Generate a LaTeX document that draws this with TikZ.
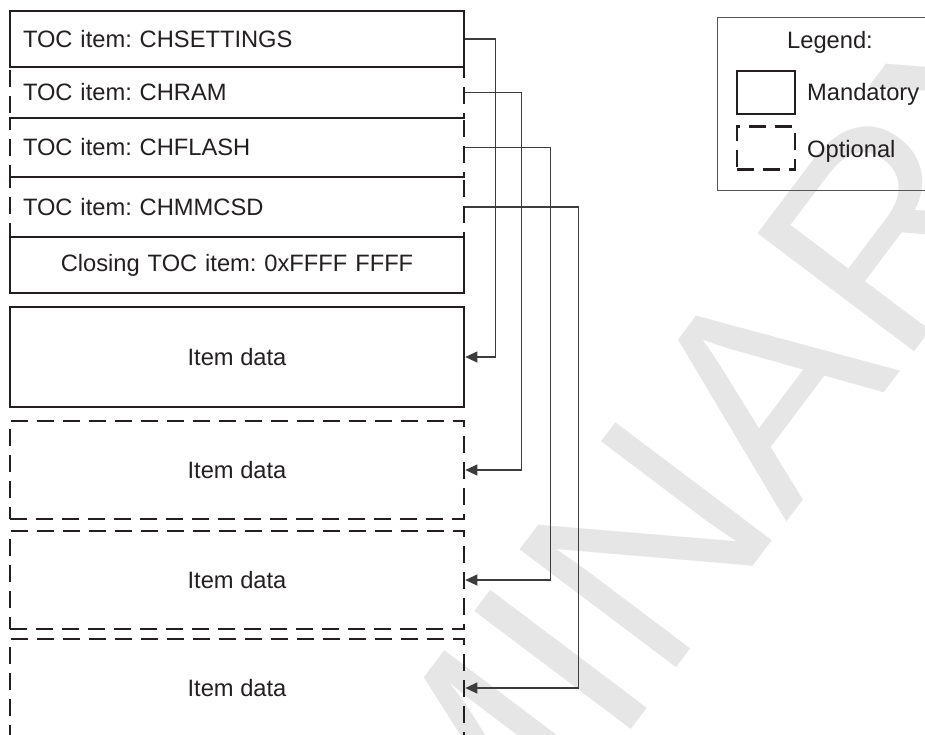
\documentclass[tikz,border=0pt]{standalone}
\usepackage{fontspec}
\setmainfont{Liberation Sans}
\usepackage{xcolor}
\usetikzlibrary{arrows.meta}
\definecolor{TInk}{HTML}{231F20}
\definecolor{TWire}{HTML}{3C3C3C}
\definecolor{TFrame}{HTML}{555555}
\definecolor{TMark}{HTML}{E6E6E6}
\frenchspacing

\begin{document}
\begin{tikzpicture}[
  x=1pt,y=-1pt,
  every node/.style={font=\fontsize{23.7}{28}\selectfont,text=TInk},
  toc/.style={draw=TInk,line width=2.6pt,inner xsep=13pt,inner ysep=0pt,
    text width=428pt,align=left,minimum height=#1},
  tocend/.style={toc=#1,align=center},
  itemdata/.style={draw=TInk,line width=2.6pt,inner sep=0pt,
    minimum width=454pt,minimum height=#1,align=center},
  opt/.style={dash pattern=on 17pt off 9pt},
  sample/.style={draw=TInk,line width=2.4pt,inner sep=0pt,
    minimum width=58pt,minimum height=43pt},
  legendframe/.style={draw=TFrame,line width=1pt,inner sep=0pt,
    minimum width=228pt,minimum height=173pt},
  wmark/.style={font=\fontsize{285}{285}\selectfont,text=TMark,
    rotate=53,inner sep=0pt},
  a/.style={-{Triangle[length=12pt,width=11pt]},line width=1.1pt,color=TWire}
]
  \useasboundingbox (0,0) rectangle (925,734);
  \clip (0,0) rectangle (925,734);
  \node[wmark] (prelim) at (478,769) {PRELIMINARY};

  % table of contents
  \node[toc=51pt,opt] (ram) at (237,92.5) {TOC item: CHRAM};
  \node[toc=59pt,opt] (flash) at (237,147.5) {TOC item: CHFLASH};
  \node[toc=60pt,opt] (mmcsd) at (237,207) {TOC item: CHMMCSD};
  \node[toc=56pt] (settings) at (237,39) {TOC item: CHSETTINGS};
  \node[tocend=56pt] (closing) at (237,265) {Closing TOC item: 0xFFFF FFFF};

  % item data blocks
  \node[itemdata=98pt,opt] (dataB) at (237,470) {Item data};
  \node[itemdata=98pt,opt] (dataC) at (237,580) {Item data};
  \node[itemdata=98pt,opt] (dataD) at (237,688) {Item data};
  \node[itemdata=100pt] (dataA) at (237,357) {Item data};

  \foreach \src/\dst/\run in {settings/dataA/30,ram/dataB/56,flash/dataC/85,mmcsd/dataD/113}
    {\draw[a] (\src.east) -- ++(\run,0) |- (\dst.east);}

  % legend
  \node[legendframe] (legend) at (831,103.5) {};
  \node[anchor=base] (legendtitle) at (830,48) {Legend:};
  \node[sample] (mandbox) at (766,92.5) {};
  \node[sample,opt] (optbox) at (766,148) {};
  \node[anchor=base west,inner sep=0pt] (mandlbl) at (807,100) {Mandatory};
  \node[anchor=base west,inner sep=0pt] (optlbl) at (807,157) {Optional};
\end{tikzpicture}
\end{document}
